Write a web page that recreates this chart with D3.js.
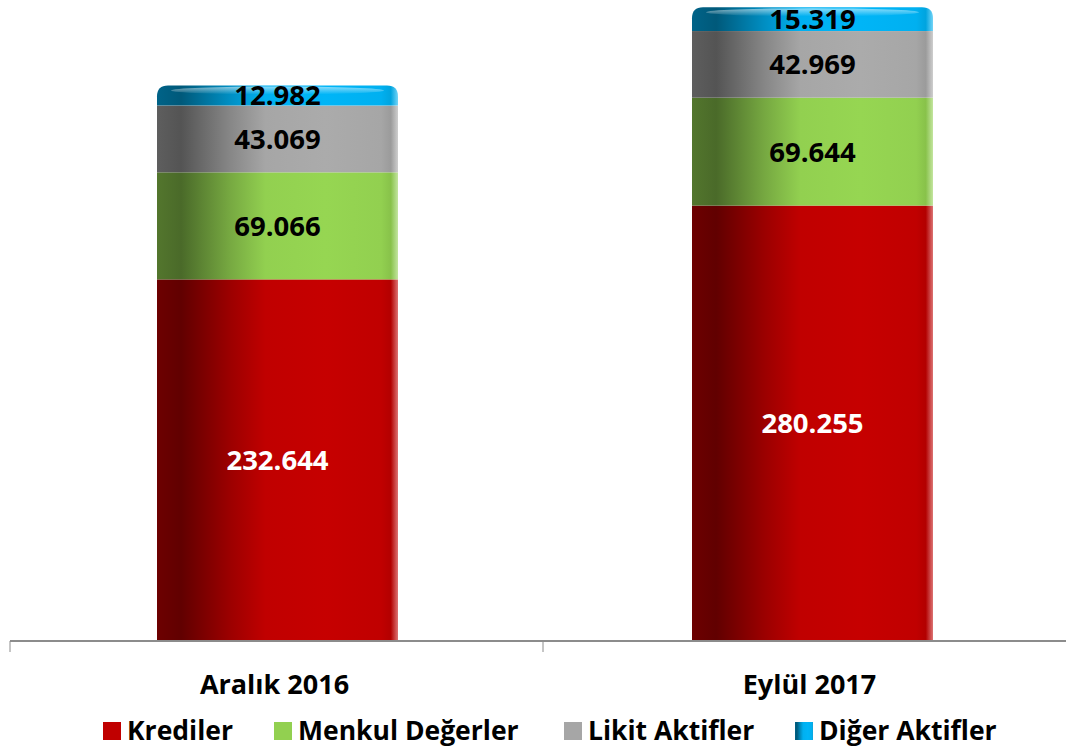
<!DOCTYPE html>
<html>
<head>
<meta charset="utf-8">
<script src="https://cdn.jsdelivr.net/npm/d3@7"></script>
<style>
  body { margin: 0; background: #fff; }
  text { font-family: "Open Sans", Calibri, sans-serif; font-weight: bold; }
</style>
</head>
<body>
<div id="chart"></div>
<script>
var WIDTH = 1066
var HEIGHT = 751

// data
var categories = ['Aralık 2016', 'Eylül 2017']
var seriesNames = ['Krediler', 'Menkul Değerler', 'Likit Aktifler', 'Diğer Aktifler']
var krediler = [232644, 280255]
var menkul = [69066, 69644]
var likit = [43069, 42969]
var diger = [12982, 15319]
var seriesColors = ['#C00000', '#92D050', '#A6A6A6', '#00B0F0']
var labelColors = ['#fff', '#000', '#000', '#000']

var svg = d3.select('#chart').append('svg')
  .attr('width', WIDTH)
  .attr('height', HEIGHT)

var defs = svg.append('defs')

var x = d3.scaleBand().domain(categories).range([10, 1080])
var y = d3.scaleLinear().domain([0, 400000]).range([640, 20])
var BAR_W = 241

// horizontal shading that gives the cylinder look
seriesColors.forEach(function (c, i) {
  var g = defs.append('linearGradient').attr('id', 'grad' + i)
    .attr('x1', 0).attr('x2', 1).attr('y1', 0).attr('y2', 0)
  var col = d3.color(c)
  var stops = [
    [0, col.darker(1.6)],
    [0.1, col.darker(1.9)],
    [0.3, col.darker(0.6)],
    [0.45, col],
    [0.7, col.brighter(0.08)],
    [0.93, col],
    [0.97, col.darker(0.2)],
    [1, d3.interpolateRgb(c, '#ffffff')(0.45)]
  ]
  stops.forEach(function (s) {
    g.append('stop').attr('offset', s[0]).attr('stop-color', s[1])
  })
})

var hl = defs.append('linearGradient').attr('id', 'hl')
  .attr('x1', 0).attr('x2', 0).attr('y1', 0).attr('y2', 1)
hl.append('stop').attr('offset', 0).attr('stop-color', '#fff').attr('stop-opacity', 0.55)
hl.append('stop').attr('offset', 1).attr('stop-color', '#fff').attr('stop-opacity', 0)

var series = [krediler, menkul, likit, diger]
var table = categories.map(function (cat, i) {
  var row = { cat: cat }
  series.forEach(function (s, k) { row[seriesNames[k]] = s[i] })
  return row
})
var stacked = d3.stack().keys(seriesNames)(table)

function fmt (v) {
  return d3.format(',')(v).replace(/,/g, '.')
}

stacked.forEach(function (layer, k) {
  var last = k === stacked.length - 1
  layer.forEach(function (d) {
    var cx = x(d.data.cat) + x.bandwidth() / 2
    var x0 = cx - BAR_W / 2
    var top = y(d[1])
    var bot = y(d[0])
    var g = svg.append('g')
    if (last) {
      var r = 11
      g.append('path')
        .attr('d', 'M' + x0 + ',' + bot + 'V' + (top + r) +
          'Q' + x0 + ',' + top + ' ' + (x0 + r) + ',' + top +
          'H' + (x0 + BAR_W - r) +
          'Q' + (x0 + BAR_W) + ',' + top + ' ' + (x0 + BAR_W) + ',' + (top + r) +
          'V' + bot + 'Z')
        .attr('fill', 'url(#grad' + k + ')')
      g.append('ellipse')
        .attr('cx', cx).attr('cy', top + 5)
        .attr('rx', BAR_W / 2 - 14).attr('ry', 4)
        .attr('fill', 'url(#hl)')
    } else {
      g.append('rect')
        .attr('x', x0).attr('y', top)
        .attr('width', BAR_W).attr('height', bot - top)
        .attr('fill', 'url(#grad' + k + ')')
    }
    g.append('text')
      .attr('x', cx)
      .attr('y', (top + bot) / 2)
      .attr('dy', '0.36em')
      .attr('text-anchor', 'middle')
      .attr('font-size', 27.5)
      .attr('fill', labelColors[k])
      .text(fmt(d.data[seriesNames[k]]))
  })
})

// axis
svg.append('line')
  .attr('x1', 10).attr('x2', WIDTH).attr('y1', 641).attr('y2', 641)
  .attr('stroke', '#8c8c8c').attr('stroke-width', 2)
var tickXs = [10].concat(categories.slice(1).map(function (c) { return x(c) - 2 }))
tickXs.forEach(function (tx) {
  svg.append('line')
    .attr('x1', tx).attr('x2', tx).attr('y1', 641).attr('y2', 652)
    .attr('stroke', '#8c8c8c').attr('stroke-width', 1)
})
categories.forEach(function (c) {
  svg.append('text')
    .attr('x', x(c) + x.bandwidth() / 2 - 3)
    .attr('y', 694)
    .attr('text-anchor', 'middle')
    .attr('font-size', 27)
    .attr('fill', '#000')
    .text(c)
})

// legend
var legendX = [103, 274, 564, 795]
seriesNames.forEach(function (name, k) {
  var lg = svg.append('g').attr('transform', 'translate(' + legendX[k] + ',722)')
  lg.append('rect').attr('width', 18).attr('height', 18)
    .attr('fill', k === 3 ? 'url(#grad3)' : seriesColors[k])
  lg.append('text').attr('x', 24).attr('y', 18)
    .attr('font-size', 26.5).attr('fill', '#000')
    .text(name)
})
</script>
</body>
</html>
